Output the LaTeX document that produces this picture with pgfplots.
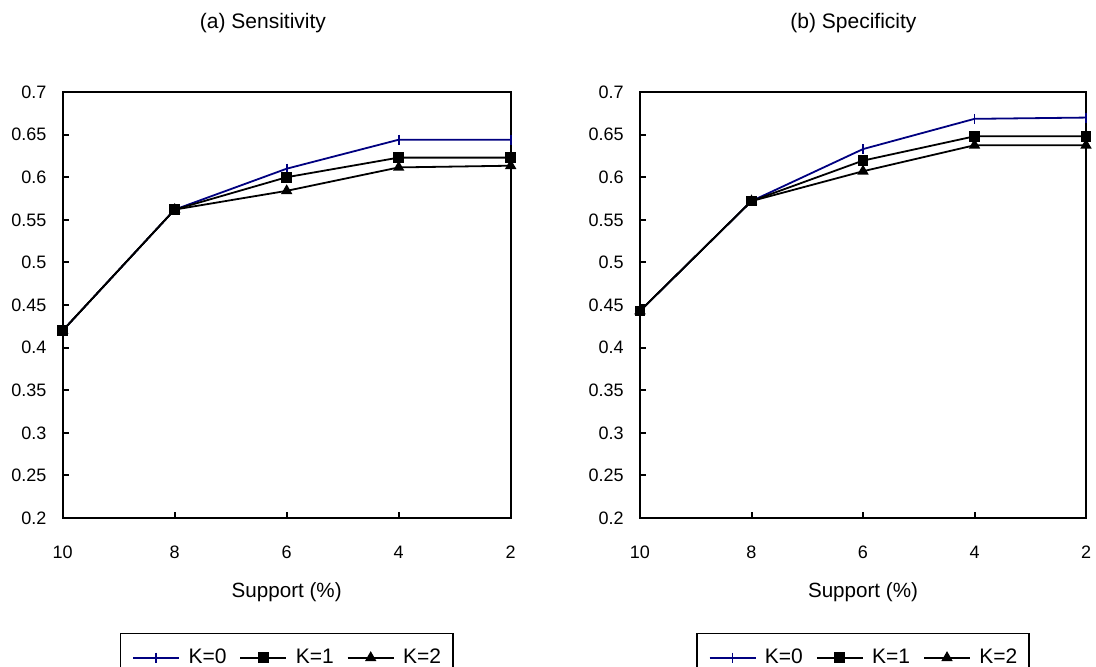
\documentclass[border=0pt]{standalone}
\usepackage{fontspec}
\setmainfont{Liberation Sans}
\usepackage{pgfplots}
\pgfplotsset{compat=1.18}
\definecolor{navyk}{RGB}{0,0,128}
\pgfplotsset{
 myaxis/.style={
  scale only axis, height=213pt, clip=false,
  xmin=2, xmax=10, x dir=reverse, ymin=0.2, ymax=0.7,
  xtick={2,4,6,8,10}, xticklabels={2,4,6,8,10},
  ytick={0.2,0.25,0.3,0.35,0.4,0.45,0.5,0.55,0.6,0.65,0.7},
  yticklabels={0.2,0.25,0.3,0.35,0.4,0.45,0.5,0.55,0.6,0.65,0.7},
  tick align=inside, xtick pos=bottom, ytick pos=left,
  major tick length=3pt,
  axis line style={line width=1pt},
  every tick/.style={black, line width=1pt},
  tick label style={font=\fontsize{9}{10}\selectfont},
  xticklabel style={anchor=center, yshift=-17pt},
  yticklabel style={anchor=east, inner sep=0pt, xshift=-8pt},
  xlabel={Support (\%)},
  xlabel style={at={(axis description cs:0.5,0)}, anchor=center, yshift=-36.85pt, font=\fontsize{10.3}{12}\selectfont},
  title style={at={(axis description cs:0.5,1)}, anchor=center, yshift=28.65pt, font=\fontsize{10.5}{12}\selectfont},
  legend columns=3,
  legend style={at={(axis description cs:0.5,0)}, anchor=north, yshift=-57.5pt, draw=black, line width=0.7pt,
    inner xsep=5.9pt, inner ysep=7.6pt, font=\fontsize{10.5}{12}\selectfont, nodes={inner sep=0pt},
    /tikz/every odd column/.append style={column sep=4.25pt},
    /tikz/every even column/.append style={column sep=6.5pt}},
  legend image code/.code={\draw[mark repeat=2, mark phase=2, #1] plot coordinates {(0pt,0pt) (11.5pt,0pt) (23pt,0pt)};},
 },
 k0/.style={color=navyk, line width=0.9pt, mark=|, mark size=2.5pt, mark options={solid, line width=0.9pt}},
 k1/.style={black, line width=0.9pt, mark=square*, mark size=2.2pt},
 k2/.style={black, line width=0.9pt, mark=triangle*, mark size=2.4pt},
}
\begin{document}
\begin{tikzpicture}
\begin{axis}[myaxis, width=224pt, at={(0,0)}, anchor=south west,
  title={(a) Sensitivity}, title style={xshift=-11.85pt}]
\addplot[k0] coordinates {(10,0.42) (8,0.562) (6,0.610) (4,0.644) (2,0.644)};
\addlegendentry{K=0}
\addplot[k1] coordinates {(10,0.42) (8,0.562) (6,0.600) (4,0.623) (2,0.623)};
\addlegendentry{K=1}
\addplot[k2] coordinates {(10,0.42) (8,0.562) (6,0.584) (4,0.6115) (2,0.6135)};
\addlegendentry{K=2}
\addplot[k1, only marks, forget plot] coordinates {(10,0.42) (8,0.562)};
\end{axis}
\begin{axis}[myaxis, width=223pt, at={(288.65pt,0)}, anchor=south west,
  title={(b) Specificity}, title style={xshift=-4.75pt}]
\addplot[k0] coordinates {(10,0.443) (8,0.572) (6,0.633) (4,0.6685) (2,0.670)};
\addlegendentry{K=0}
\addplot[k1] coordinates {(10,0.443) (8,0.572) (6,0.6195) (4,0.648) (2,0.648)};
\addlegendentry{K=1}
\addplot[k2] coordinates {(10,0.443) (8,0.572) (6,0.607) (4,0.6375) (2,0.6375)};
\addlegendentry{K=2}
\addplot[k1, only marks, forget plot] coordinates {(10,0.443) (8,0.572)};
\end{axis}
\pgfresetboundingbox
\useasboundingbox (-31.35pt,-74pt) rectangle (516.65pt,259pt);
\end{tikzpicture}
\end{document}
